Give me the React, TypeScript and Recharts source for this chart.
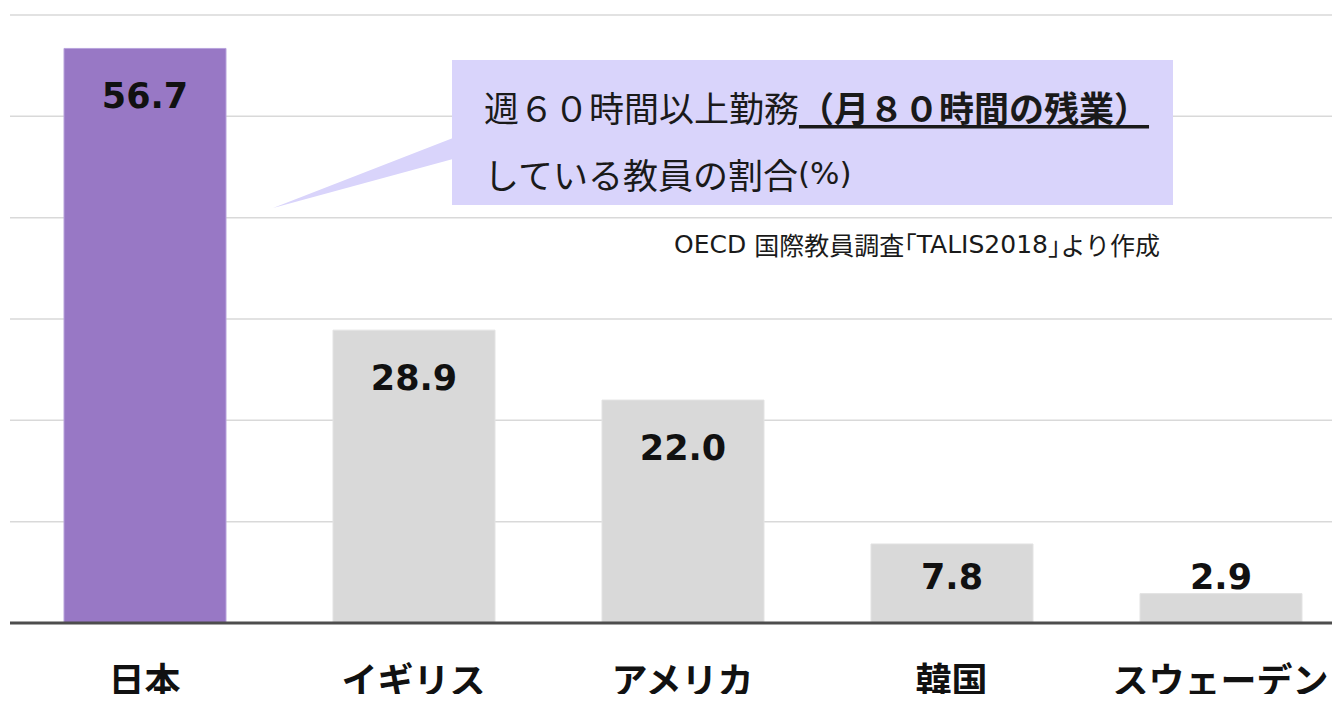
import React from 'react';
import { BarChart, Bar, XAxis, YAxis, CartesianGrid, LabelList, Cell } from 'recharts';

const categories = ['日本', 'イギリス', 'アメリカ', '韓国', 'スウェーデン'];
const values = [56.7, 28.9, 22.0, 7.8, 2.9];
const yTicks = [0, 10, 20, 30, 40, 50, 60];
const highlight = '日本';

const titleRegular = '週６０時間以上勤務';
const titleBold = '（月８０時間の残業）';
const subtitleMain = 'している教員の割合';
const subtitleUnit = '(%)';
const sourceParts = ['OECD ', '国際教員調査', '「', 'TALIS2018', '」', 'より作成'];

const data = categories.map((name, i) => ({ name, value: values[i] }));

const FONT = '"Noto Sans CJK JP", "Noto Sans", sans-serif';
const LATIN_FONT = '"DejaVu Sans", "Noto Sans CJK JP", sans-serif';

const ValueLabel = (props: any) => {
  const { x, y, width, height, value } = props;
  const cy = Math.min(y + 48, y + height - 46);
  return (
    <text
      x={x + width / 2}
      y={cy}
      textAnchor="middle"
      dominantBaseline="central"
      fontSize={35}
      fontWeight={700}
      fill="#111"
      fontFamily={LATIN_FONT}
    >
      {Number(value).toFixed(1)}
    </text>
  );
};

const CategoryTick = (props: any) => {
  const { x, y, payload } = props;
  return (
    <text
      x={x}
      y={y + 47}
      textAnchor="middle"
      dominantBaseline="central"
      fontSize={36}
      fontWeight={700}
      fill="#111"
      fontFamily={FONT}
    >
      {payload.value}
    </text>
  );
};

export default function App() {
  return (
    <div style={{ margin: -8, position: 'relative', width: 1340, height: 702, overflow: 'hidden', background: '#fff', fontFamily: FONT }}>
      <BarChart
        width={1356}
        height={702}
        data={data}
        margin={{ top: 15, right: 1, left: 10, bottom: 0 }}
        barCategoryGap="20%"
      >
        <CartesianGrid vertical={false} stroke="#d9d9d9" strokeWidth={1.5} />
        <YAxis hide domain={[0, 60]} ticks={yTicks} />
        <XAxis
          dataKey="name"
          height={79}
          tickLine={false}
          axisLine={{ stroke: '#4d4d4d', strokeWidth: 3 }}
          tick={<CategoryTick />}
          interval={0}
        />
        <Bar dataKey="value" isAnimationActive={false} barSize={162}>
          {data.map((d) => (
            <Cell
              key={d.name}
              fill={d.name === highlight ? '#9878c5' : '#d9d9d9'}
              stroke={d.name === highlight ? '#b8a3dc' : '#e3e3e3'}
              strokeWidth={1}
            />
          ))}
          <LabelList dataKey="value" content={<ValueLabel />} />
        </Bar>
      </BarChart>
      <svg width={1340} height={702} style={{ position: 'absolute', left: 0, top: 0, pointerEvents: 'none' }}>
        <polygon points="453,138 453,159 273,208" fill="#d9d4fb" />
        <rect x={452} y={60} width={721} height={145} fill="#d9d4fb" />
        <text x={484} y={106} dominantBaseline="central" fontSize={35} fill="#1a1a1a" fontFamily={FONT}>
          <tspan>{titleRegular}</tspan>
          <tspan fontWeight={700} textDecoration="underline">{titleBold}</tspan>
        </text>
        <text x={484} y={173} dominantBaseline="central" fontSize={35} fill="#1a1a1a" fontFamily={FONT}>
          <tspan>{subtitleMain}</tspan>
          <tspan fontSize={31} fontFamily={LATIN_FONT}>{subtitleUnit}</tspan>
        </text>
        <text x={1160} y={244} textAnchor="end" dominantBaseline="central" fontSize={25} fill="#1a1a1a" fontFamily={LATIN_FONT}>
          <tspan>{sourceParts[0]}</tspan>
          <tspan fontFamily={FONT}>{sourceParts[1]}</tspan>
          <tspan fontFamily={FONT} style={{ fontFeatureSettings: '"halt"' }}>{sourceParts[2]}</tspan>
          <tspan>{sourceParts[3]}</tspan>
          <tspan fontFamily={FONT} style={{ fontFeatureSettings: '"halt"' }}>{sourceParts[4]}</tspan>
          <tspan fontFamily={FONT}>{sourceParts[5]}</tspan>
        </text>
      </svg>
    </div>
  );
}
